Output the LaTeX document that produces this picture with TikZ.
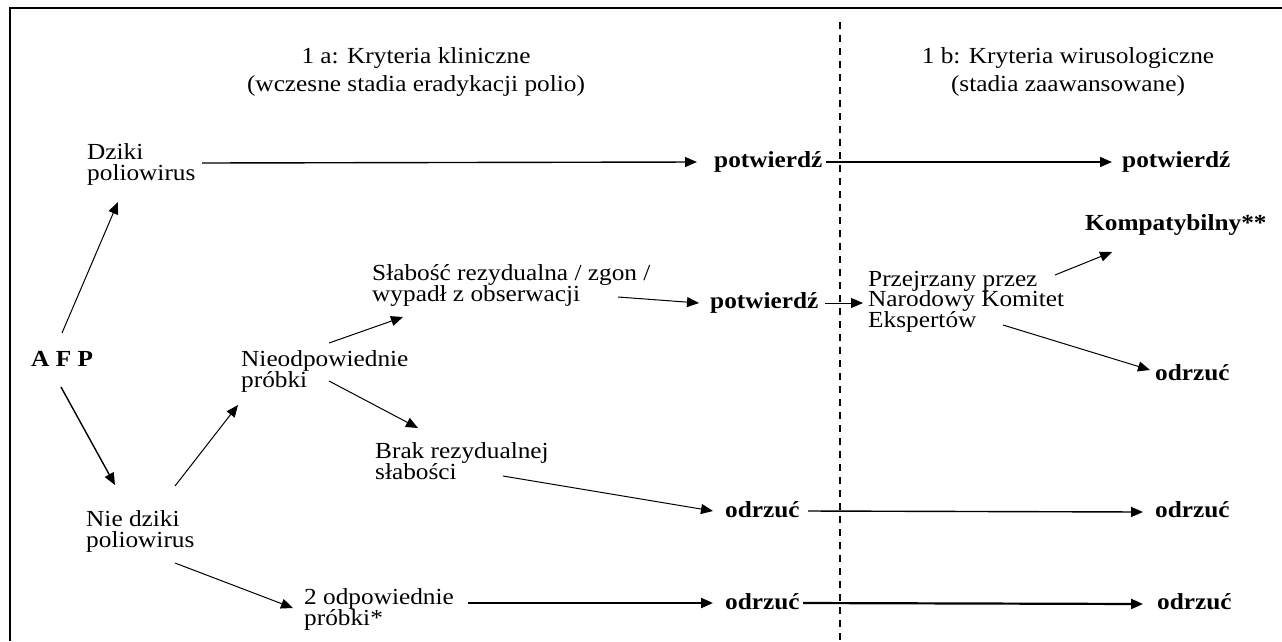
\documentclass[tikz,border=0pt]{standalone}
\usepackage{fontspec}
\setmainfont{Liberation Serif}[FakeStretch=1.1]
\usetikzlibrary{arrows.meta}
\newcommand\twoline[2]{\vtop{\lineskiplimit=-100pt\lineskip=0pt\hbox{#1}\hbox{#2}}}
\newcommand\threeline[3]{\vtop{\lineskiplimit=-100pt\lineskip=0pt\hbox{#1}\hbox{#2}\hbox{#3}}}
\newcommand\centertwo[2]{\vtop{\lineskiplimit=-100pt\lineskip=0pt\halign{\hfil##\hfil\cr#1\cr#2\cr}}}
\tikzset{
  txt/.style={inner sep=0pt, anchor=base west, font=\fontsize{23}{21.5}\selectfont},
  btxt/.style={inner sep=0pt, anchor=base west, font=\fontsize{23}{21.5}\selectfont\bfseries},
  head/.style={inner sep=0pt, anchor=base, font=\fontsize{23}{28}\selectfont},
  thin/.style={line width=1pt, -{Triangle[length=12pt,width=10pt]}},
  mid/.style={line width=1.4pt, -{Triangle[length=12pt,width=10pt]}},
  thick/.style={line width=2.2pt, -{Triangle[length=12pt,width=10pt]}},
  frame/.style={line width=1.5pt},
  divider/.style={line width=1.5pt, dash pattern=on 7pt off 6pt},
}
\begin{document}
\begin{tikzpicture}[x=1pt,y=-1pt]
\useasboundingbox (0,0) rectangle (1282,641);
% frame
\draw[frame] (1282,8) -- (10,8) -- (10,641);
% divider
\coordinate (dtop) at (840,22);
\coordinate (dbot) at (840,641);
\draw[divider] (dtop) -- (dbot);
% headers
\node[head] (h1a) at (416,63) {\centertwo{1 a: Kryteria kliniczne}{(wczesne stadia eradykacji polio)}};
\node[head] (h1b) at (1068,63) {\centertwo{1 b: Kryteria wirusologiczne}{(stadia zaawansowane)}};
% nodes
\node[btxt] (afp) at (31,366) {A F P};
\node[txt] (dziki) at (87,159) {\twoline{Dziki}{poliowirus}};
\node[txt] (niedziki) at (86,526) {\twoline{Nie dziki}{poliowirus}};
\node[txt] (nieodp) at (241,366) {\twoline{Nieodpowiednie}{próbki}};
\node[txt] (slab) at (372,280) {\twoline{Słabość rezydualna / zgon /}{wypadł z obserwacji}};
\node[txt] (brak) at (375,458) {\twoline{Brak rezydualnej}{słabości}};
\node[txt] (dwa) at (304,604) {\twoline{2 odpowiednie}{próbki*}};
\node[btxt] (p1) at (714,167) {potwierdź};
\node[btxt] (p1r) at (1122,167) {potwierdź};
\node[btxt] (p2) at (710,308) {potwierdź};
\node[txt, font=\fontsize{23}{20.5}\selectfont] (przej) at (868,286) {\threeline{Przejrzany przez}{Narodowy Komitet}{Ekspertów}};
\node[btxt] (kompat) at (1085,230) {Kompatybilny**};
\node[btxt] (odrz1) at (1155,380) {odrzuć};
\node[btxt] (odrz2) at (725,517) {odrzuć};
\node[btxt] (odrz2r) at (1155,517) {odrzuć};
\node[btxt] (odrz3) at (725,609) {odrzuć};
\node[btxt] (odrz3r) at (1157,609) {odrzuć};
% connectors
\draw[thin] ([shift={(31,-33)}]afp.base west) -- ([shift={(31,43)}]dziki.base west);
\draw[mid] ([shift={(30,21)}]afp.base west) -- ([shift={(29,-41)}]niedziki.base west);
\draw[thin] ([shift={(89,-40)}]niedziki.base west) -- ([shift={(-3,39)}]nieodp.base west);
\draw[thin] ([shift={(89,37)}]niedziki.base west) -- ([shift={(-11,4)}]dwa.base west);
\draw[thin] ([shift={(88,-23)}]nieodp.base west) -- ([shift={(31,37)}]slab.base west);
\draw[thin] ([shift={(88,15)}]nieodp.base west) -- ([shift={(43,-30)}]brak.base west);
\draw[mid] ([shift={(115,4)}]dziki.base west) -- ([shift={(-17,-5)}]p1.base west);
\draw[mid] ([shift={(112,-5)}]p1.base west) -- ([shift={(-10,-5)}]p1r.base west);
\draw[thin] ([shift={(246,17)}]slab.base west) -- ([shift={(-11,-5)}]p2.base west);
\draw[thin] ([shift={(115,-5)}]p2.base west) -- ([shift={(-5,17)}]przej.base west);
\draw[thin] ([shift={(187,-11)}]przej.base west) -- ([shift={(27,22)}]kompat.base west);
\draw[thin] ([shift={(135,39)}]przej.base west) -- ([shift={(-5,-10)}]odrz1.base west);
\draw[thin] ([shift={(128,18)}]brak.base west) -- ([shift={(-12,-6)}]odrz2.base west);
\draw[mid] ([shift={(83,-6)}]odrz2.base west) -- ([shift={(-12,-5)}]odrz2r.base west);
\draw[thick] ([shift={(164,-1)}]dwa.base west) -- ([shift={(-12,-6)}]odrz3.base west);
\draw[thick] ([shift={(78,-6)}]odrz3.base west) -- ([shift={(-14,-5)}]odrz3r.base west);
\end{tikzpicture}
\end{document}
